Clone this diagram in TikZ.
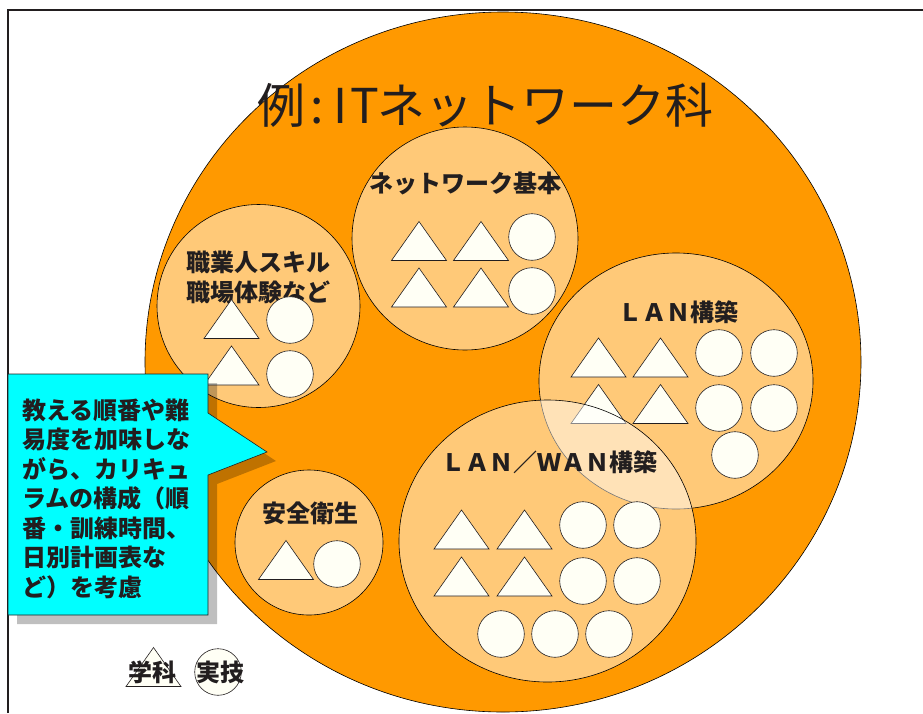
\documentclass[tikz,border=0pt]{standalone}
\usepackage{fontspec}
\setmainfont{Noto Sans CJK JP}
\usetikzlibrary{positioning, shapes.geometric}
\definecolor{deeporange}{RGB}{255,153,0}
\definecolor{cream}{RGB}{255,255,245}
\definecolor{ink}{RGB}{34,30,31}
\definecolor{calloutcyan}{RGB}{0,255,255}
\newcommand{\halfw}[1]{\makebox[0.5em]{#1}}

\begin{document}
\begin{tikzpicture}[
  x=1pt, y=-1pt,
  every node/.style={inner sep=0pt, outer sep=0pt},
  big area/.style={
    ellipse,
    draw=black,
    line width=0.6pt,
    fill=deeporange
  },
  sub area/.style={
    ellipse,
    draw=black,
    line width=0.6pt,
    fill=white,
    fill opacity=0.47,
    text opacity=1
  },
  jitsugi/.style={
    circle,
    draw=ink,
    line width=0.6pt,
    fill=cream,
    minimum size=46.6pt
  },
  tri/.pic={
    \draw[draw=ink, line width=0.6pt, fill=cream] (-27.5,19.5) -- (27.5,19.5) -- (0,-19.5) -- cycle;
  },
  area label/.style={
    text=ink,
    font=\bfseries\fontsize{24}{29.5}\selectfont
  }
]
\useasboundingbox (0,0) rectangle (923,713);

% frame
\draw[ink, line width=1.6pt] (8,713) -- (8,10) -- (923,10);

% whole course
\node(course)[big area, minimum width=716pt, minimum height=700pt] at (503,362) {};

% network basics
\node(kihon)[sub area, minimum width=226pt, minimum height=223pt] at (465,238.5) {};
\node(kihonlbl)[area label] at (465,183) {ネットワーク基本};
\pic at (419,241) {tri};
\pic at (481,241) {tri};
\pic at (419,287.5) {tri};
\pic at (481,287.5) {tri};
\node(kihon-c1)[jitsugi] at (532,237) {};
\node(kihon-c2)[jitsugi] at (532,291) {};

% job skills
\node(shoku)[sub area, minimum width=203pt, minimum height=203pt] at (258.5,306) {};
\node(shokulbl)[area label, align=center] at (258,277.5) {職業人スキル\\職場体験など};
\pic at (231.5,319) {tri};
\pic at (231.5,365.5) {tri};
\node(shoku-c1)[jitsugi] at (290,320) {};
\node(shoku-c2)[jitsugi] at (290,374) {};

% LAN
\node(lan)[sub area, minimum width=274pt, minimum height=256pt] at (676,381) {};
\node(lanlbl)[area label] at (678,312) {ＬＡＮ構築};
\pic at (598.5,357.5) {tri};
\pic at (660.5,357.5) {tri};
\pic at (598.5,404) {tri};
\pic at (660.5,404) {tri};
\node(lan-c1)[jitsugi] at (719,353) {};
\node(lan-c2)[jitsugi] at (774,353) {};
\node(lan-c3)[jitsugi] at (719,408) {};
\node(lan-c4)[jitsugi] at (774,408) {};
\node(lan-c5)[jitsugi] at (735,455) {};

% LAN/WAN
\node(wan)[sub area, minimum width=297pt, minimum height=282pt] at (547.5,541) {};
\node(wanlbl)[area label] at (549,462) {ＬＡＮ／ＷＡＮ構築};
\pic at (461.5,529.5) {tri};
\pic at (524.5,529.5) {tri};
\pic at (461.5,576.5) {tri};
\pic at (524.5,576.5) {tri};
\node(wan-c1)[jitsugi] at (583,525) {};
\node(wan-c2)[jitsugi] at (637,525) {};
\node(wan-c3)[jitsugi] at (583,581) {};
\node(wan-c4)[jitsugi] at (637,581) {};
\node(wan-c5)[jitsugi] at (501,634) {};
\node(wan-c6)[jitsugi] at (555,634) {};
\node(wan-c7)[jitsugi] at (609,634) {};

% safety
\node(anzen)[sub area, minimum width=148pt, minimum height=145pt] at (309,542.5) {};
\node(anzenlbl)[area label] at (310,513) {安全衛生};
\pic at (286,560) {tri};
\node(anzen-c1)[jitsugi] at (337,564) {};

% callout
\fill[black, opacity=0.25] (17,383) -- (217,383) -- (217,422) -- (276,461) -- (217,484) -- (217,624) -- (17,624) -- cycle;
\draw[ink, line width=0.6pt, fill=calloutcyan] (8,374) -- (208,374) -- (208,413) -- (267,452) -- (208,475) -- (208,615) -- (8,615) -- cycle;
\node(memo)[area label, anchor=west, align=left] at (22,498.5)
  {教える順番や難\\易度を加味しな\\がら、カリキュ\\ラムの構成（順\\番・訓練時間、\\日別計画表な\\ど）を考慮};

% legend
\pic at (153.5,667) {tri};
\node(gakka)[area label] at (152.5,672) {学科};
\node(legend-c)[jitsugi] at (218,672) {};
\node(jitsu)[area label] at (220,672) {実技};

% title
\node(title)[text=ink, font=\fontsize{48}{56}\selectfont] at (485,105) {例\halfw{:}\halfw{I}\halfw{T}ネットワーク科};

\end{tikzpicture}
\end{document}
